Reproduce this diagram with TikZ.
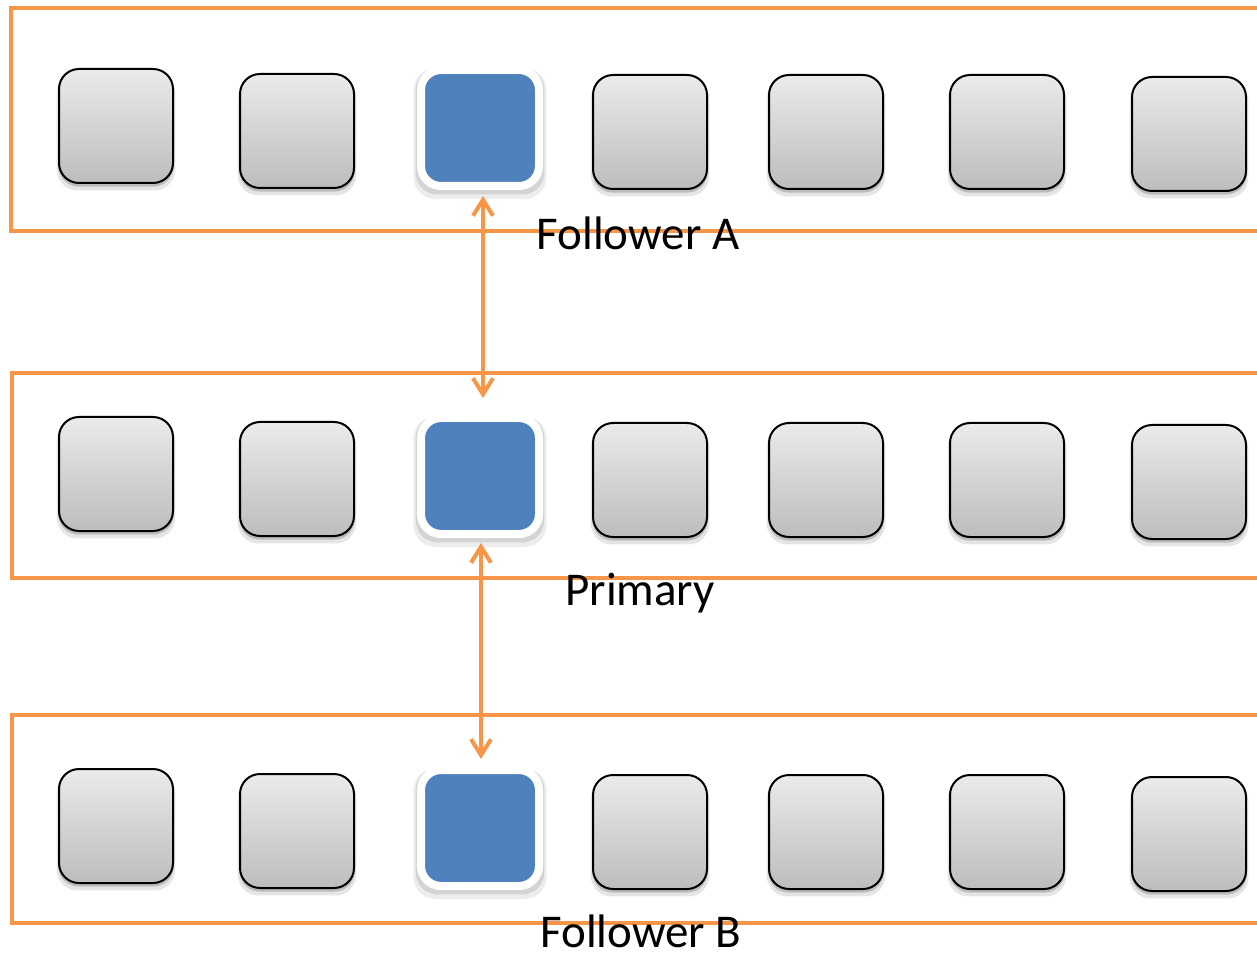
\documentclass[tikz,border=0pt]{standalone}
\usepackage{fontspec}
\setmainfont{Carlito}
\usetikzlibrary{arrows.meta,shadows}
\definecolor{frameorange}{HTML}{F79646}
\definecolor{logblue}{HTML}{4F81BD}
\tikzset{
  softshadow/.style={
    general shadow={fill=black, opacity=0.10, shadow scale=1.04, shadow yshift=-2.5pt},
    general shadow={fill=black, opacity=0.18, shadow scale=1.01, shadow yshift=-1.5pt}},
  haloshadow/.style={
    general shadow={fill=black, opacity=0.07, shadow scale=1.13, shadow yshift=-2.5pt},
    general shadow={fill=black, opacity=0.10, shadow scale=1.09, shadow yshift=-1.5pt}},
  entry/.style={draw=black, line width=1pt, rounded corners=10pt,
    top color=black!8, bottom color=black!26, minimum width=57pt, minimum height=57pt,
    inner sep=0pt, softshadow},
  current/.style={draw=white, line width=4pt, fill=logblue, rounded corners=10pt,
    minimum width=59pt, minimum height=58pt, inner sep=0pt, haloshadow},
  logframe/.style={draw=frameorange, line width=2pt},
  sync/.style={draw=frameorange, line width=2pt,
    {Straight Barb[length=8pt,width=10pt,line width=2pt]}-{Straight Barb[length=8pt,width=10pt,line width=2pt]}},
  label/.style={font=\fontsize{23.5}{28}\selectfont, inner sep=0pt, anchor=base}
}
\begin{document}
\begin{tikzpicture}[x=0.5pt,y=-0.5pt]
  \useasboundingbox (0,0) rectangle (1257,956);
  \clip (0,0) rectangle (1257,956);
  \fill[white] (0,0) rectangle (1257,956);

  % one orange frame per replica log
  \draw[logframe] (11,8) rectangle (1280,231);
  \draw[logframe] (12,373) rectangle (1280,578);
  \draw[logframe] (12,715) rectangle (1280,923);

  % log entries: rows A (Follower A), P (Primary), B (Follower B)
  \foreach \row/\dy in {A/0, P/348, B/700} {
    \foreach \col/\x/\y in {1/116/126, 2/297/131, 4/650/132, 5/826/132, 6/1007/132, 7/1189/134} {
      \node[entry] (\row\col) at (\x,\y+\dy) {};
    }
    \node[current] (\row3) at (480,128+\dy) {};
  }

  % replication between the current entries
  \draw[sync, shorten <=3pt, shorten >=8pt] ([xshift=1.5pt]A3.south) -- ([xshift=1.5pt]P3.north);
  \draw[sync, shorten <=2.5pt, shorten >=3.5pt] ([xshift=0.5pt]P3.south) -- ([xshift=0.5pt]B3.north);

  % replica names
  \node[label] (labA) at (638,250) {Follower A};
  \node[label] (labP) at (640,605) {Primary};
  \node[label] (labB) at (641,947) {Follower B};
\end{tikzpicture}
\end{document}
